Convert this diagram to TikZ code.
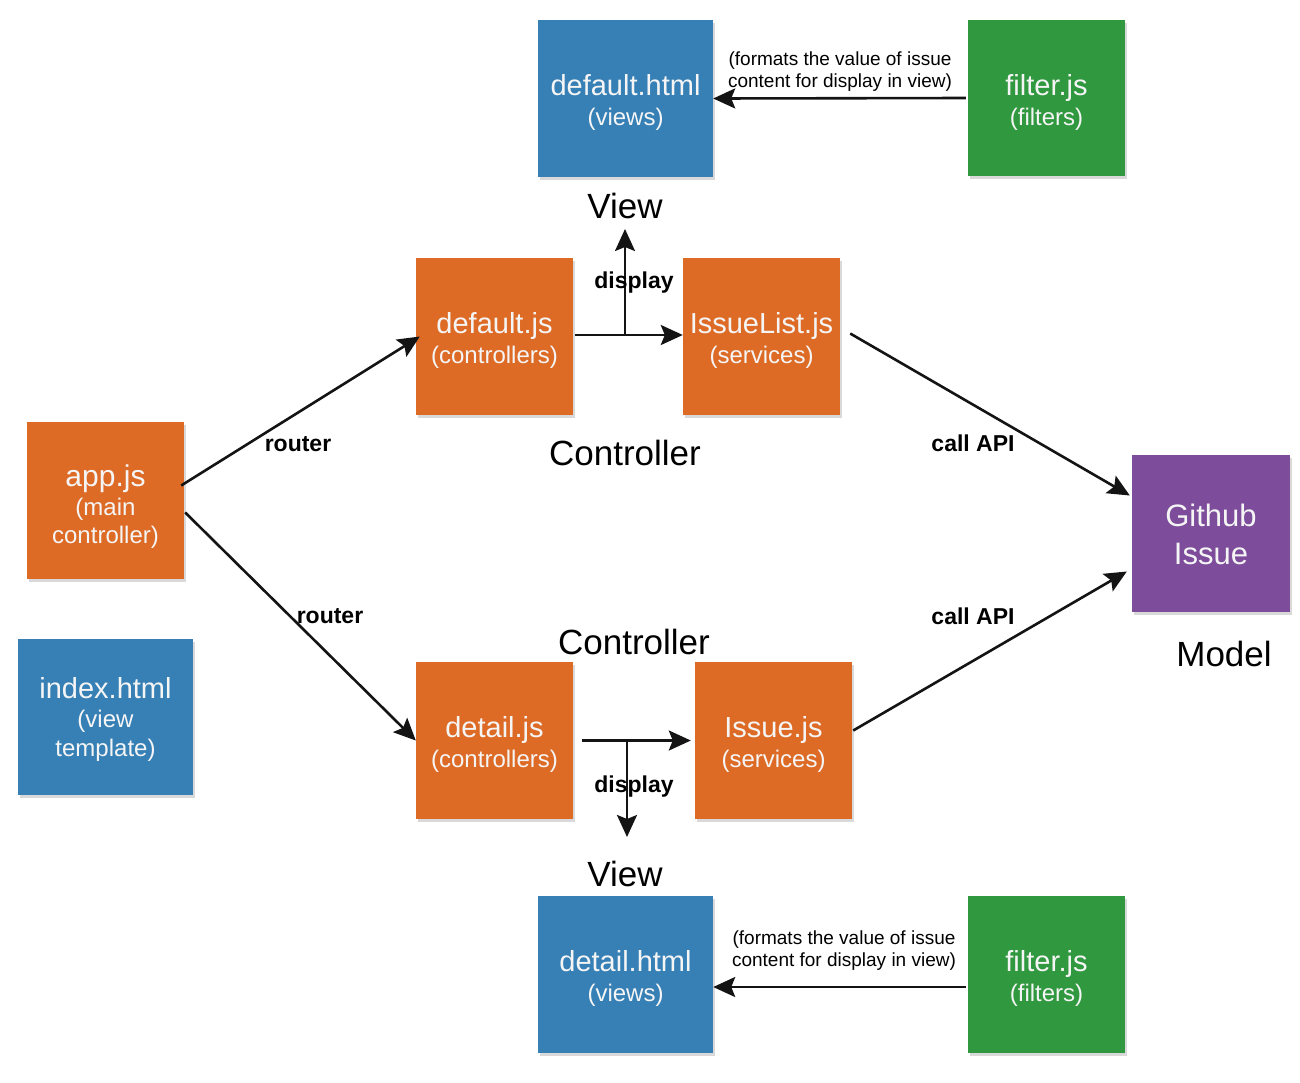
\documentclass[tikz,border=0pt]{standalone}
\usepackage{fontspec}
\setmainfont{Liberation Sans}
\usetikzlibrary{arrows.meta,shadows}
\definecolor{cblue}{RGB}{54,128,182}
\definecolor{corange}{RGB}{221,107,38}
\definecolor{cgreen}{RGB}{48,152,63}
\definecolor{cpurple}{RGB}{125,77,155}
\definecolor{ctext}{RGB}{245,245,245}
\tikzset{
  box/.style={draw=none, inner sep=0pt, minimum width=157pt, minimum height=157pt,
    drop shadow={shadow xshift=1.5pt, shadow yshift=-2.5pt, opacity=0.3}},
  wbox/.style={box, minimum width=175pt},
  btext/.style={inner sep=0pt, align=center, text=ctext, font=\fontsize{24}{30}\selectfont},
  conn/.style={line width=2.6pt, draw=black!92, -{Stealth[length=22pt,width=20pt,inset=4pt]}},
  lbl/.style={font=\bfseries\fontsize{23}{26}\selectfont, inner sep=0pt},
  ttl/.style={font=\fontsize{35}{40}\selectfont, inner sep=0pt},
  note/.style={font=\fontsize{19}{22}\selectfont, align=center, inner sep=0pt}
}
\newcommand{\bigt}[1]{{\fontsize{29}{31}\selectfont #1}}
\begin{document}
\begin{tikzpicture}[x=1pt,y=-1pt]
\useasboundingbox (0,0) rectangle (1300,1082);
% boxes
\node[wbox, fill=cblue] (vdef) at (625.5,98.5) {};
\node[btext] (vdeft) at ([yshift=-4pt]vdef.center) {\bigt{default.html}\\(views)};
\node[box, fill=cgreen, minimum height=156pt] (ftop) at (1046.5,98) {};
\node[btext] (ftopt) at ([yshift=-4pt]ftop.center) {\bigt{filter.js}\\(filters)};
\node[box, fill=corange] (cdef) at (494.5,336.5) {};
\node[btext] (cdeft) at ([yshift=-4pt]cdef.center) {\bigt{default.js}\\(controllers)};
\node[box, fill=corange] (sil) at (761.5,336.5) {};
\node[btext] (silt) at ([yshift=-4pt]sil.center) {\bigt{IssueList.js}\\(services)};
\node[box, fill=corange] (app) at (105.5,500.5) {};
\node[btext] (appt) at ([yshift=-6pt]app.center) {{\fontsize{30}{31}\selectfont app.js}\\[-1pt](main\\[-2pt]controller)};
\node[wbox, fill=cblue, minimum height=156pt] (idx) at (105.5,717) {};
\node[btext] (idxt) at ([yshift=-2.5pt]idx.center) {\bigt{index.html}\\[-1pt](view\\[-1pt]template)};
\node[box, fill=corange] (cdet) at (494.5,740.5) {};
\node[btext] (cdett) at ([yshift=-4pt]cdet.center) {\bigt{detail.js}\\(controllers)};
\node[box, fill=corange] (siss) at (773.5,740.5) {};
\node[btext] (sisst) at ([yshift=-4pt]siss.center) {\bigt{Issue.js}\\(services)};
\node[box, fill=cpurple, minimum width=158pt] (gh) at (1211,533.5) {};
\node[btext, font=\fontsize{31}{38}\selectfont] (ght) at ([yshift=-1pt]gh.center) {Github\\Issue};
\node[wbox, fill=cblue] (vdet) at (625.5,974.5) {};
\node[btext] (vdett) at ([yshift=-4pt]vdet.center) {\bigt{detail.html}\\(views)};
\node[box, fill=cgreen] (fbot) at (1046.5,974.5) {};
\node[btext] (fbott) at ([yshift=-4pt]fbot.center) {\bigt{filter.js}\\(filters)};
% titles
\node[ttl] (t1) at (625,206) {View};
\node[ttl] (t2) at (625,453) {Controller};
\node[ttl] (t3) at (634,642) {Controller};
\node[ttl] (t4) at (625,874) {View};
\node[ttl] (t5) at (1224,654) {Model};
% connectors
\draw[conn] ([xshift=-2pt]ftop.west) -- (vdef.east);
\node[note] (n1) at (840,72) {(formats the value of issue\\content for display in view)};
\draw[conn] ([xshift=-2pt,yshift=-12.5pt]fbot.west) -- ([yshift=-12.5pt]vdet.east);
\node[note] (n2) at (844,951) {(formats the value of issue\\content for display in view)};

\coordinate (d1) at (625,335);
\coordinate (d1t) at (625,229);
\draw[conn] ([xshift=2pt,yshift=1.5pt]cdef.east) -- ([yshift=1.5pt]sil.west);
\draw[conn] (d1) -- (d1t);
\node[lbl] (l1) at (634,283) {display};

\coordinate (d2) at (627,740);
\coordinate (d2b) at (627,837);
\draw[conn] ([xshift=9pt]cdet.east) -- ([xshift=-4pt]siss.west);
\draw[conn] (d2) -- (d2b);
\node[lbl] (l2) at (634,787) {display};

\draw[conn] ([xshift=-3pt,yshift=15pt]app.east) -- ([xshift=4pt]cdef.west);
\node[lbl] (l3) at (298,444) {router};
\draw[conn] ([xshift=1pt,yshift=-12pt]app.east) -- (cdet.west);
\node[lbl] (l4) at (330,616) {router};

\draw[conn] ([xshift=10pt,yshift=3pt]sil.east) -- ([xshift=-2pt,yshift=38pt]gh.west);
\node[lbl] (l5) at (973,443) {call API};
\draw[conn] ([xshift=1pt,yshift=10pt]siss.east) -- ([xshift=-5pt,yshift=-38pt]gh.west);
\node[lbl] (l6) at (973,616) {call API};
\end{tikzpicture}
\end{document}
